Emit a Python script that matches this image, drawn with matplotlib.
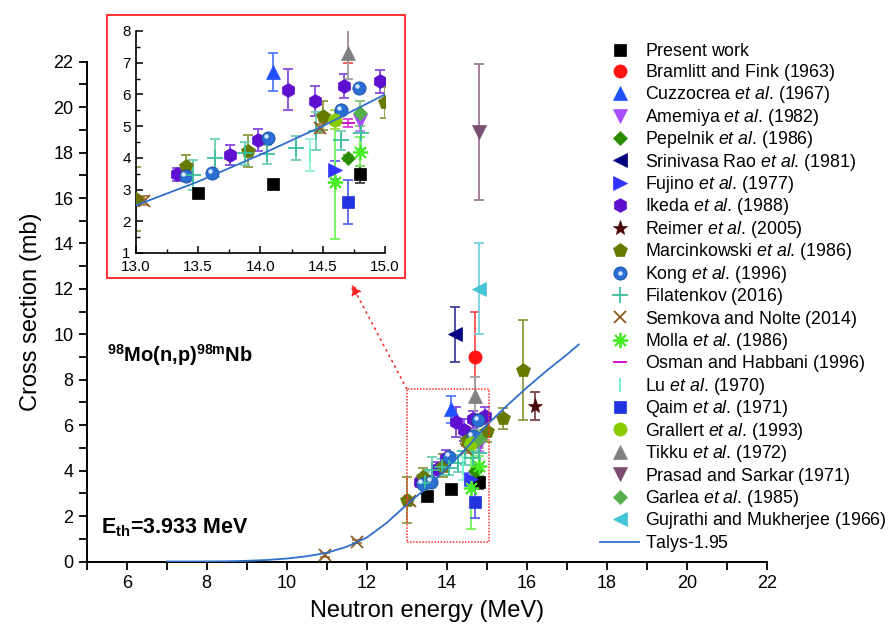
import matplotlib
matplotlib.use("Agg")
import matplotlib.pyplot as plt
from matplotlib.lines import Line2D
from matplotlib.patches import Rectangle
from matplotlib.transforms import ScaledTranslation
from matplotlib.colors import to_rgb
from matplotlib.legend_handler import HandlerTuple
from matplotlib.ticker import MultipleLocator, FormatStrFormatter

plt.rcParams["font.family"] = ["Liberation Sans", "DejaVu Sans"]
plt.rcParams["mathtext.fontset"] = "custom"
plt.rcParams["mathtext.rm"] = "Liberation Sans"
plt.rcParams["mathtext.it"] = "Liberation Sans:italic"
plt.rcParams["mathtext.bf"] = "Liberation Sans:bold"

# ---------------- measured cross sections (E in MeV, sigma in mb) ----------------
present_E = [13.5, 14.1, 14.8]
present_cs = [2.89, 3.18, 3.48]
present_err = [0.12, 0.12, 0.27]

bramlitt_E = [14.7]
bramlitt_cs = [9.0]
bramlitt_err = [2.0]

cuzzocrea_E = [14.1]
cuzzocrea_cs = [6.7]
cuzzocrea_err = [0.6]

amemiya_E = [14.8]
amemiya_cs = [5.15]
amemiya_err = [0.3]

pepelnik_E = [14.7]
pepelnik_cs = [4.0]
pepelnik_err = [0.1]

srinivasa_E = [14.2]
srinivasa_cs = [10.0]
srinivasa_err = [1.2]

fujino_E = [14.6]
fujino_cs = [3.62]
fujino_err = [0.28]

ikeda_E = [13.33, 13.76, 13.98, 14.22, 14.44, 14.67, 14.96]
ikeda_cs = [3.48, 4.09, 4.56, 6.15, 5.80, 6.26, 6.42]
ikeda_err = [0.2, 0.3, 0.35, 0.65, 0.48, 0.38, 0.36]

reimer_E = [16.2]
reimer_cs = [6.85]
reimer_err = [0.6]

marcinkowski_E = [13.0, 13.4, 13.9, 14.5, 15.0, 15.4, 15.9]
marcinkowski_cs = [2.7, 3.73, 4.22, 5.33, 5.75, 6.3, 8.45]
marcinkowski_err = [1.0, 0.37, 0.5, 0.45, 0.5, 0.45, 2.2]

kong_E = [13.4, 13.61, 14.06, 14.65, 14.79]
kong_cs = [3.43, 3.52, 4.62, 5.51, 6.21]
kong_err = [0.1, 0.1, 0.1, 0.1, 0.1]

filatenkov_E = [13.46, 13.64, 13.88, 14.05, 14.29, 14.45, 14.65, 14.81]
filatenkov_cs = [3.46, 4.01, 4.14, 4.11, 4.32, 4.85, 4.56, 4.77]
filatenkov_err = [0.47, 0.6, 0.35, 0.3, 0.38, 0.6, 0.3, 0.5]

semkova_E = [10.95, 11.75, 13.07, 14.48]
semkova_cs = [0.29, 0.87, 2.65, 4.93]
semkova_err = [0.08, 0.06, 0.15, 0.15]

molla_E = [14.6, 14.8]
molla_cs = [3.25, 4.2]
molla_err = [1.8, 0.45]

osman_E = [14.7]
osman_cs = [5.1]
osman_err = [0.12]

lu_E = [14.4]
lu_cs = [4.1]
lu_err = [0.5]

qaim_E = [14.7]
qaim_cs = [2.6]
qaim_err = [0.7]

grallert_E = [14.6]
grallert_cs = [5.2]
grallert_err = [0.3]

tikku_E = [14.7]
tikku_cs = [7.3]
tikku_err = [0.8]

prasad_E = [14.8]
prasad_cs = [18.9]
prasad_err = [3.0]

garlea_E = [14.8]
garlea_cs = [5.4]
garlea_err = [0.4]

gujrathi_E = [14.8]
gujrathi_cs = [12.0]
gujrathi_err = [2.0]

# TALYS-1.95 excitation function
talys_E = [7.0, 7.5, 8.0, 8.5, 9.0, 9.5, 10.0, 10.5, 11.0, 11.5, 12.0, 12.5,
           13.0, 13.5, 14.0, 14.5, 15.0, 15.5, 16.0, 16.5, 17.0, 17.3]
talys_cs = [0.0, 0.001, 0.003, 0.01, 0.03, 0.065, 0.13, 0.23, 0.38, 0.65, 1.05, 1.7,
            2.5, 3.25, 4.1, 5.0, 6.0, 6.85, 7.65, 8.4, 9.1, 9.55]

# ---------------- series styles ----------------
# a trailing thin space ($\,$) keeps every legend row on the same mathtext metrics
series = [
    (r"Present work$\,$", present_E, present_cs, present_err, "s", "#000000", 8.5),
    (r"Bramlitt and Fink (1963)$\,$", bramlitt_E, bramlitt_cs, bramlitt_err, "o", "#ff1414", 9.5),
    (r"Cuzzocrea $\it{et\ al}$. (1967)", cuzzocrea_E, cuzzocrea_cs, cuzzocrea_err, "^", "#1f50ff", 10),
    (r"Amemiya $\it{et\ al}$. (1982)", amemiya_E, amemiya_cs, amemiya_err, "v", "#a64dff", 10),
    (r"Pepelnik $\it{et\ al}$. (1986)", pepelnik_E, pepelnik_cs, pepelnik_err, "D", "#2a8c00", 7.5),
    (r"Srinivasa Rao $\it{et\ al}$. (1981)", srinivasa_E, srinivasa_cs, srinivasa_err, "<", "#000080", 10),
    (r"Fujino $\it{et\ al}$. (1977)", fujino_E, fujino_cs, fujino_err, ">", "#3333ff", 10),
    (r"Ikeda $\it{et\ al}$. (1988)", ikeda_E, ikeda_cs, ikeda_err, "h", "#5e0fd0", 10),
    (r"Reimer $\it{et\ al}$. (2005)", reimer_E, reimer_cs, reimer_err, "*", "#4a0808", 11),
    (r"Marcinkowski $\it{et\ al}$. (1986)", marcinkowski_E, marcinkowski_cs, marcinkowski_err, "p", "#667a00", 10.5),
    (r"Kong $\it{et\ al}$. (1996)", kong_E, kong_cs, kong_err, "o", "#2a6ed4", 9.5),
    (r"Filatenkov (2016)$\,$", filatenkov_E, filatenkov_cs, filatenkov_err, "+", "#3cbf9c", 11),
    (r"Semkova and Nolte (2014)$\,$", semkova_E, semkova_cs, semkova_err, "x", "#8b5a1e", 9),
    (r"Molla $\it{et\ al}$. (1986)", molla_E, molla_cs, molla_err, (8, 2, 0), "#44ee22", 11),
    (r"Osman and Habbani (1996)$\,$", osman_E, osman_cs, osman_err, "_", "#cc00cc", 10),
    (r"Lu $\it{et\ al}$. (1970)", lu_E, lu_cs, lu_err, "|", "#70f0c8", 10),
    (r"Qaim $\it{et\ al}$. (1971)", qaim_E, qaim_cs, qaim_err, "s", "#2233e0", 8.5),
    (r"Grallert $\it{et\ al}$. (1993)", grallert_E, grallert_cs, grallert_err, "o", "#88cc00", 9.5),
    (r"Tikku $\it{et\ al}$. (1972)", tikku_E, tikku_cs, tikku_err, "^", "#808080", 10),
    (r"Prasad and Sarkar (1971)$\,$", prasad_E, prasad_cs, prasad_err, "v", "#7a4e70", 10),
    (r"Garlea $\it{et\ al}$. (1985)", garlea_E, garlea_cs, garlea_err, "D", "#55b04a", 7.5),
    (r"Gujrathi and Mukherjee (1966)$\,$", gujrathi_E, gujrathi_cs, gujrathi_err, "<", "#44c4d4", 10),
]
talys_label = r"Talys-1.95$\,$"
talys_color = "#2f6fcc"
kong_label = r"Kong $\it{et\ al}$. (1996)"


def lighter(c, f=0.3):
    r, g, b = to_rgb(c)
    return (r + (1 - r) * f, g + (1 - g) * f, b + (1 - b) * f)


def draw_series(ax, fig):
    hl = ax.transData + ScaledTranslation(-1.6 / 72, 1.6 / 72, fig.dpi_scale_trans)
    for label, E, cs, err, mk, col, ms in series:
        line_mk = mk in ("+", "x", "|", "_") or isinstance(mk, tuple)
        ax.errorbar(E, cs, yerr=err, fmt="none", ecolor=lighter(col, 0.25),
                    elinewidth=1.3, capsize=3.6, capthick=1.3, zorder=2)
        if label == kong_label:
            ax.plot(E, cs, ls="none", marker="o", ms=ms, mfc=col, mec="#1c4f9e",
                    mew=0.6, zorder=3)
            ax.plot(E, cs, ls="none", marker="o", ms=3.2, mfc="#d8e9ff", mec="none",
                    zorder=3.1, transform=hl)
        elif line_mk:
            ax.plot(E, cs, ls="none", marker=mk, ms=ms, color=col, mew=1.3, zorder=3)
        else:
            ax.plot(E, cs, ls="none", marker=mk, ms=ms, mfc=col, mec=col, mew=0.5, zorder=3)
    ax.plot(talys_E, talys_cs, color=talys_color, lw=1.3, zorder=4)


fig = plt.figure(figsize=(8.9, 6.31), dpi=100)
W, H = 890.0, 631.0

# ---------------- main panel ----------------
ax = fig.add_axes([86.7 / W, 1 - 561.5 / H, 680 / W, 499.8 / H])
draw_series(ax, fig)
ax.set_xlim(5, 22)
ax.set_ylim(0, 22)
ax.xaxis.set_major_locator(MultipleLocator(2))
ax.xaxis.set_minor_locator(MultipleLocator(1))
ax.yaxis.set_major_locator(MultipleLocator(2))
ax.yaxis.set_minor_locator(MultipleLocator(1))
ax.set_xticks(range(6, 23, 2))
for side in ("top", "right"):
    ax.spines[side].set_visible(False)
for side in ("left", "bottom"):
    ax.spines[side].set_linewidth(1.4)
ax.tick_params(which="both", direction="out", length=6, width=1.3, labelsize=13)
ax.set_xlabel("Neutron energy (MeV)", fontsize=17, labelpad=6)
ax.set_ylabel("Cross section (mb)", fontsize=17, labelpad=8)

ax.text(5.52, 9.1, r"$^{\mathbf{98}}$Mo(n,p)$^{\mathbf{98m}}$Nb", fontsize=14.5,
        fontweight="bold", va="center", ha="left")
ax.text(5.37, 1.5, r"E$_{\mathbf{th}}$=3.933 MeV", fontsize=15.5,
        fontweight="bold", va="center", ha="left")

# zoom window and pointer
ax.add_patch(Rectangle((13.0, 0.87), 2.05, 6.73, fill=False, edgecolor="#ff3030",
                       lw=1.1, ls=(0, (1, 1)), zorder=5))
ax.annotate("", xy=(11.62, 12.2), xytext=(13.0, 7.6),
            arrowprops=dict(arrowstyle="-|>", color="#ff2020", lw=1.1,
                            ls=(0, (1, 3)), mutation_scale=16, shrinkA=0, shrinkB=0))

# legend
handles = []
labels = []
for label, E, cs, err, mk, col, ms in series:
    line_mk = mk in ("+", "x", "|", "_") or isinstance(mk, tuple)
    if label == kong_label:
        h = (Line2D([], [], ls="none", marker="o", ms=ms, mfc=col, mec="#1c4f9e", mew=0.6),
             Line2D([], [], ls="none", marker="o", ms=3.2, mfc="#d8e9ff", mec="none"))
    elif line_mk:
        h = Line2D([], [], ls="none", marker=mk, ms=ms, color=col, mew=1.3)
    else:
        h = Line2D([], [], ls="none", marker=mk, ms=ms, mfc=col, mec=col, mew=0.5)
    handles.append(h)
    labels.append(label)
handles.append(Line2D([], [], color=talys_color, lw=1.3))
labels.append(talys_label)
fig.legend(handles, labels, loc="upper left", bbox_to_anchor=(600 / W, 1 - 43.5 / H),
           frameon=False, fontsize=12.8, handlelength=2.2, handletextpad=0.33,
           labelspacing=0.08, borderpad=0, borderaxespad=0, numpoints=1,
           handler_map={tuple: HandlerTuple(ndivide=1)})

# ---------------- inset ----------------
fig.add_artist(Rectangle((107 / W, 1 - 278 / H), 298 / W, 263 / H, fill=False,
                         edgecolor="#ff2020", lw=1.3, transform=fig.transFigure))
axi = fig.add_axes([135.7 / W, 1 - 253 / H, 249.3 / W, 222 / H])
draw_series(axi, fig)
axi.set_xlim(13, 15)
axi.set_ylim(1, 8)
axi.xaxis.set_major_locator(MultipleLocator(0.5))
axi.xaxis.set_minor_locator(MultipleLocator(0.25))
axi.yaxis.set_major_locator(MultipleLocator(1))
axi.yaxis.set_minor_locator(MultipleLocator(0.5))
axi.xaxis.set_major_formatter(FormatStrFormatter("%.1f"))
for side in ("top", "right"):
    axi.spines[side].set_visible(False)
for side in ("left", "bottom"):
    axi.spines[side].set_linewidth(1.2)
axi.tick_params(which="major", direction="in", length=5, width=1.1, labelsize=11)
axi.tick_params(axis="x", which="major", pad=5)
axi.tick_params(which="minor", direction="in", length=3, width=1.0)
axi.patch.set_alpha(0)

fig.savefig("out.png", dpi=100)
